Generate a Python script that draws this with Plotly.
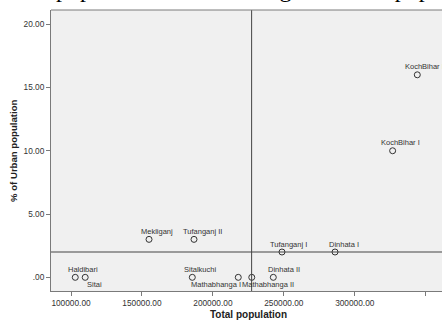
import plotly.graph_objects as go

# ---- data ----
blocks = ["Haldibari", "Sitai", "Mekliganj", "Tufanganj II", "Sitalkuchi",
          "Mathabhanga I", "Mathabhanga II", "Dinhata II", "Tufanganj I",
          "Dinhata I", "KochBihar I", "KochBihar II"]
total_population = [103000, 110000, 155000, 186700, 185500,
                    217900, 227400, 242600, 248700,
                    286100, 326700, 344100]
urban_pct = [0.0, 0.0, 3.0, 3.0, 0.0,
             0.0, 0.0, 0.0, 2.0,
             2.0, 10.0, 16.0]
ref_x = 227300
ref_y = 2.0
x_tickvals = [100000, 150000, 200000, 250000, 300000, 350000]
x_ticktext = ["100000.00", "150000.00", "200000.00", "250000.00", "300000.00", "350000.00"]
y_tickvals = [0, 5, 10, 15, 20]
y_ticktext = [".00", "5.00", "10.00", "15.00", "20.00"]
title_text = "Total population Vs Percentage of urban population"

# label placement (pixel offsets: dx, dy) -- styling only
label_offsets = [(8, 8), (9, -7), (8, 8), (8, 8), (8, 8),
                 (-22, -7), (16, -7), (11, 8), (7, 8),
                 (9, 8), (8, 8), (8, 8)]

SANS = "Liberation Sans, Arial, sans-serif"
AXC = "#7a7a7a"

fig = go.Figure()
fig.add_trace(go.Scatter(
    x=total_population, y=urban_pct, mode="markers",
    marker=dict(symbol="circle-open", size=6, color="#333333", line=dict(width=1, color="#333333")),
    showlegend=False, hoverinfo="skip", cliponaxis=False))

annotations = []
for name, xv, yv, (dx, dy) in zip(blocks, total_population, urban_pct, label_offsets):
    annotations.append(dict(x=xv, y=yv, xref="x", yref="y", text=name, showarrow=False,
                            xanchor="center", yanchor="middle", xshift=dx, yshift=dy,
                            font=dict(family=SANS, size=7.5, color="#333333")))

# axis titles
annotations.append(dict(x=0.504, y=-0.084, xref="paper", yref="paper", text="<b>Total population</b>",
                        showarrow=False, xanchor="center", yanchor="middle",
                        font=dict(family=SANS, size=10, color="#222222")))
annotations.append(dict(x=-0.096, y=0.5, xref="paper", yref="paper", text="<b>% of Urban population</b>",
                        showarrow=False, xanchor="center", yanchor="middle", textangle=-90,
                        font=dict(family=SANS, size=9.6, color="#222222")))
# clipped caption at the very top
annotations.append(dict(x=-0.133, y=1.021, xref="paper", yref="paper", text=title_text,
                        showarrow=False, xanchor="left", yanchor="bottom",
                        font=dict(family="Liberation Serif, Times New Roman, serif", size=24, color="#000000")))

fig.update_layout(
    width=442, height=323,
    margin=dict(l=51, r=0, t=10, b=32),
    paper_bgcolor="white", plot_bgcolor="#f0f0f0",
    annotations=annotations,
    shapes=[
        dict(type="line", xref="x", yref="paper", x0=ref_x, x1=ref_x, y0=0, y1=1,
             line=dict(color="#444444", width=1)),
        dict(type="line", xref="paper", yref="y", x0=0, x1=1, y0=ref_y, y1=ref_y,
             line=dict(color="#444444", width=1)),
        dict(type="line", xref="paper", yref="paper", x0=0, x1=1, y0=1, y1=1,
             line=dict(color=AXC, width=1)),
    ],
)
fig.update_xaxes(range=[85900, 361500], tickvals=x_tickvals, ticktext=x_ticktext,
                 showgrid=False, zeroline=False, showline=True, linecolor=AXC, linewidth=1,
                 mirror=False, ticks="outside", ticklen=4, tickcolor=AXC,
                 tickfont=dict(family=SANS, size=8.3, color="#333333"))
fig.update_yaxes(range=[-1.08, 21.12], tickvals=y_tickvals, ticktext=y_ticktext,
                 showgrid=False, zeroline=False, showline=True, linecolor=AXC, linewidth=1,
                 mirror=False, ticks="outside", ticklen=4, tickcolor=AXC,
                 tickfont=dict(family=SANS, size=8.3, color="#333333"))

fig.write_html("out.html", config={"displayModeBar": False},
               post_script="document.body.style.margin='0';")
